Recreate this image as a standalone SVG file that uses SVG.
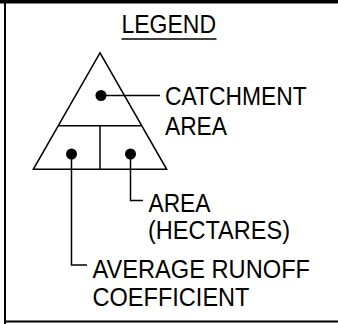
<svg xmlns="http://www.w3.org/2000/svg" width="338" height="324" viewBox="0 0 338 324">
<style>
.t{font-family:"Liberation Sans",Arial,sans-serif;font-size:26px;fill:#000}
.s{fill:none;stroke:#000;stroke-width:1.5}
.d{fill:#000}
</style>
<rect width="338" height="324" fill="#fff"/>
<g id="frame">
<rect x="0" y="0" width="338" height="3.5" fill="#000"/>
<rect x="4" y="0" width="2" height="324" fill="#000"/>
<rect x="4" y="320.5" width="334" height="2" fill="#000"/>
</g>
<g id="legend-title">
<text class="t" x="121.5" y="32.5" textLength="94.5" lengthAdjust="spacingAndGlyphs">LEGEND</text>
<line class="s" x1="121.5" y1="39" x2="216.5" y2="39"/>
</g>
<g id="triangle">
<polygon class="s" points="100,52.8 33.3,169.3 166.7,169.3"/>
<line class="s" x1="58.3" y1="125.7" x2="141.7" y2="125.7"/>
<line class="s" x1="100" y1="125.7" x2="100" y2="169.3"/>
<circle class="d" cx="101" cy="95.5" r="5.5"/>
<circle class="d" cx="71.5" cy="154" r="5.5"/>
<circle class="d" cx="130.5" cy="154" r="5.5"/>
</g>
<g id="connectors">
<polyline class="s" points="101,95.5 160,95.5"/>
<polyline class="s" points="130.5,154 130.5,200.5 143,200.5"/>
<polyline class="s" points="71.5,154 71.5,265 87,265"/>
</g>
<g id="catchment">
<text class="t" x="165" y="105" textLength="141.7" lengthAdjust="spacingAndGlyphs">CATCHMENT</text>
<text class="t" x="165" y="135" textLength="62" lengthAdjust="spacingAndGlyphs">AREA</text>
</g>
<g id="area">
<text class="t" x="148.5" y="211.5" textLength="62" lengthAdjust="spacingAndGlyphs">AREA</text>
<text class="t" x="148" y="239" textLength="142" lengthAdjust="spacingAndGlyphs">(HECTARES)</text>
</g>
<g id="runoff">
<text class="t" x="92.5" y="278" textLength="217.5" lengthAdjust="spacingAndGlyphs">AVERAGE RUNOFF</text>
<text class="t" x="92.5" y="305.5" textLength="157" lengthAdjust="spacingAndGlyphs">COEFFICIENT</text>
</g>
</svg>
